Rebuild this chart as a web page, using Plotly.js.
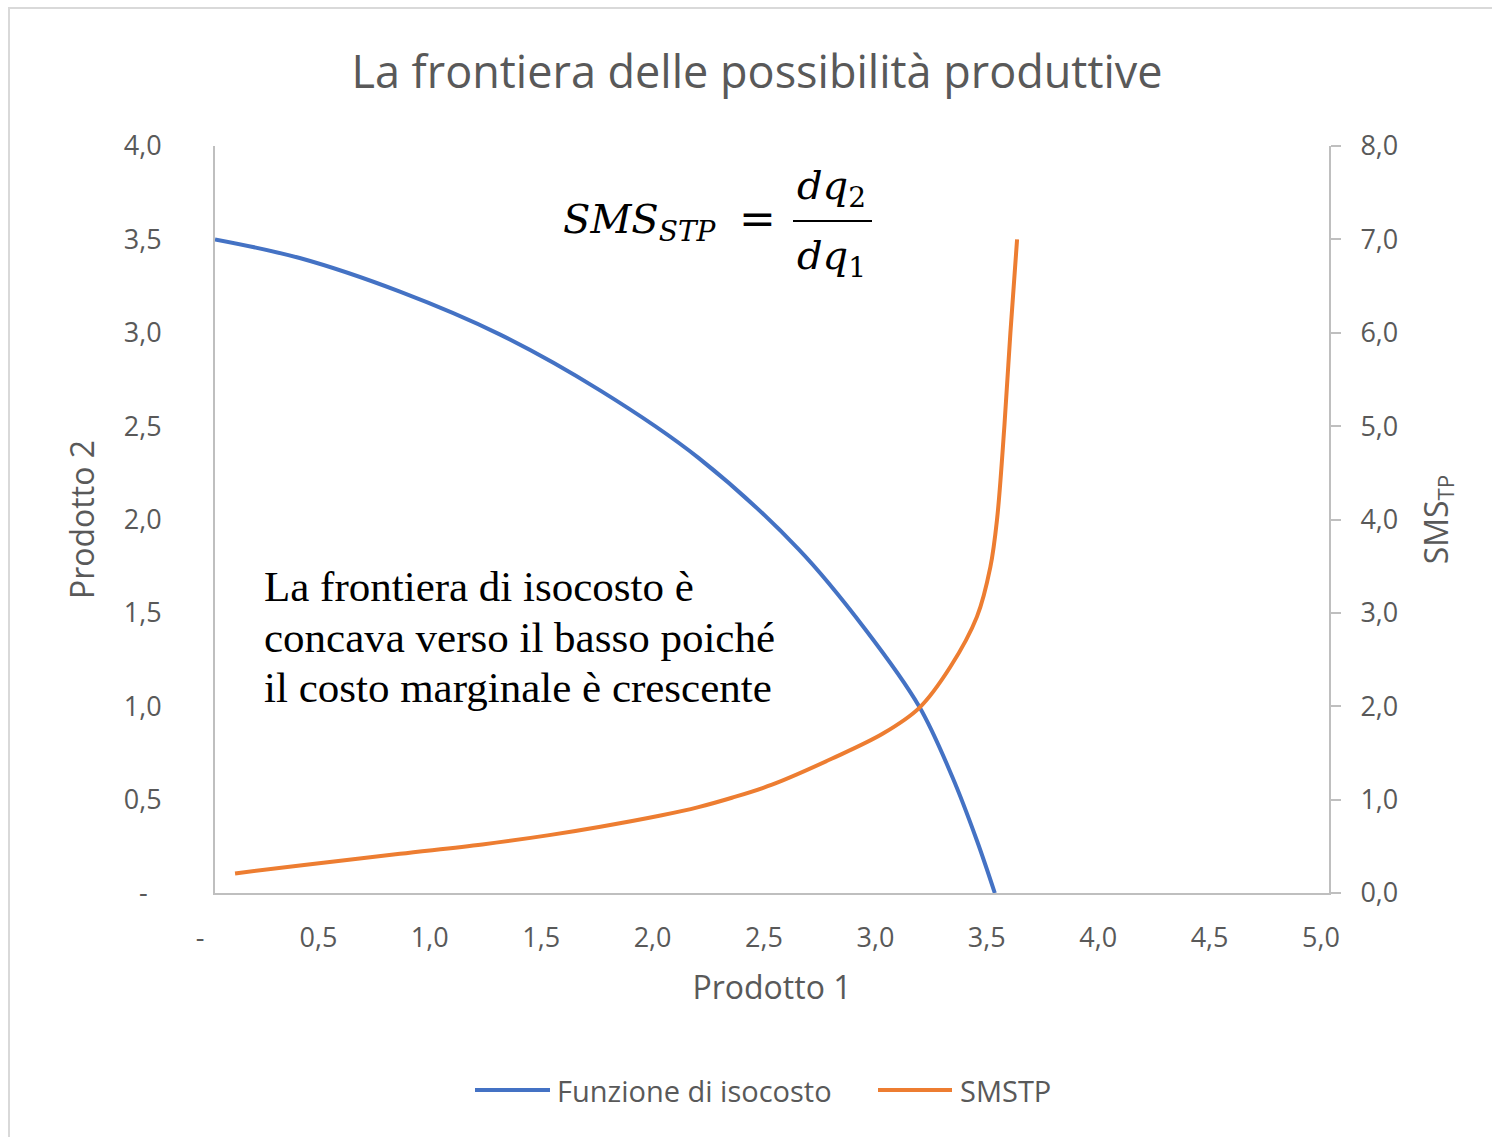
<!DOCTYPE html>
<html>
<head>
<meta charset="utf-8">
<script src="https://cdn.plot.ly/plotly-3.0.1.min.js"></script>
<style>
html,body{margin:0;padding:0;background:#fff;overflow:hidden;}
#frame{position:absolute;left:8px;top:7px;width:1600px;height:1300px;border:2px solid #d9d9d9;box-sizing:border-box;}
#chart{position:absolute;left:0;top:0;width:1492px;height:1137px;}
</style>
</head>
<body>
<div id="frame"></div>
<div id="chart"></div>
<script>
// Data
const isocostX = [0, 0.38, 0.83, 1.28, 1.73, 2.17, 2.62, 2.92, 3.16, 3.31, 3.42, 3.5];
const isocostY = [3.5, 3.40, 3.22, 2.99, 2.69, 2.33, 1.84, 1.41, 1.0, 0.62, 0.28, 0];
const smsX = [0.09, 0.4, 0.83, 1.2, 1.5, 1.73, 2.0, 2.17, 2.32, 2.5, 2.77, 3.0, 3.16, 3.3, 3.42, 3.48, 3.51, 3.543, 3.57, 3.60];
const smsY = [0.21, 0.30, 0.42, 0.52, 0.62, 0.71, 0.83, 0.92, 1.02, 1.16, 1.44, 1.71, 1.98, 2.42, 2.96, 3.49, 4.0, 5.0, 6.0, 7.0];
const xTickVals = [0, 0.5, 1, 1.5, 2, 2.5, 3, 3.5, 4, 4.5, 5];
const xTickText = ['-\u00a0\u00a0', '0,5', '1,0', '1,5', '2,0', '2,5', '3,0', '3,5', '4,0', '4,5', '5,0'];
const yTickVals = [0, 0.5, 1, 1.5, 2, 2.5, 3, 3.5, 4];
const yTickText = ['-\u00a0\u00a0', '0,5', '1,0', '1,5', '2,0', '2,5', '3,0', '3,5', '4,0'];
const y2TickVals = [0, 1, 2, 3, 4, 5, 6, 7, 8];
const y2TickText = ['0,0', '1,0', '2,0', '3,0', '4,0', '5,0', '6,0', '7,0', '8,0'];
const seriesNames = ['Funzione di isocosto', 'SMSTP'];
const seriesColors = ['#4472C4', '#ED7D31'];
const noteLines = ['La frontiera di isocosto è', 'concava verso il basso poiché', 'il costo marginale è crescente'];

const gray = '#595959';
const axisGray = '#bfbfbf';
const uiFont = 'Open Sans, Noto Sans, sans-serif';
const serif = 'Liberation Serif, Times New Roman, serif';
const mathFont = 'DejaVu Serif, Liberation Serif, serif';

const traces = [
  {x: isocostX, y: isocostY, type: 'scatter', mode: 'lines', name: seriesNames[0],
   line: {color: seriesColors[0], width: 4, shape: 'spline'}, xaxis: 'x', yaxis: 'y'},
  {x: smsX, y: smsY, type: 'scatter', mode: 'lines', name: seriesNames[1],
   line: {color: seriesColors[1], width: 4, shape: 'spline'}, xaxis: 'x', yaxis: 'y2'}
];

const L = 215, R = 1329, T = 146, B = 893, W = 1492, H = 1137;
const pw = R - L, ph = B - T;
function px(x){ return (x - L) / pw; }
function py(y){ return (B - y) / ph; }

const annotations = [];
const shapes = [];
const noteY = [586, 637, 688];
noteLines.forEach((t, i) => annotations.push({
  text: t, xref: 'paper', yref: 'paper', x: px(262), y: py(noteY[i]),
  xanchor: 'left', yanchor: 'middle', showarrow: false,
  font: {family: serif, size: 43, color: '#000'}
}));
annotations.push({
  text: '<i>SMS</i><sub><i>STP</i></sub>', xref: 'paper', yref: 'paper',
  x: px(561), y: py(222), xanchor: 'left', yanchor: 'middle', showarrow: false,
  font: {family: mathFont, size: 40, color: '#000'}
});
annotations.push({
  text: '=', xref: 'paper', yref: 'paper',
  x: px(757), y: py(218), xanchor: 'center', yanchor: 'middle', showarrow: false,
  font: {family: mathFont, size: 44, color: '#000'}
});
annotations.push({
  text: '<i>dq</i><sub>2</sub>', xref: 'paper', yref: 'paper',
  x: px(831), y: py(188), xanchor: 'center', yanchor: 'middle', showarrow: false,
  font: {family: mathFont, size: 40, color: '#000'}
});
annotations.push({
  text: '<i>dq</i><sub>1</sub>', xref: 'paper', yref: 'paper',
  x: px(831), y: py(258), xanchor: 'center', yanchor: 'middle', showarrow: false,
  font: {family: mathFont, size: 40, color: '#000'}
});
shapes.push({type: 'line', xref: 'paper', yref: 'paper', x0: px(793), x1: px(872), y0: py(221), y1: py(221),
  line: {color: '#000', width: 2}});

// custom legend (long line samples as in the reference)
const legLineX = [[475, 550], [878, 952]];
const legTextX = [555, 958];
seriesNames.forEach((n, i) => {
  shapes.push({type: 'line', xref: 'paper', yref: 'paper', x0: px(legLineX[i][0]), x1: px(legLineX[i][1]),
    y0: py(1090), y1: py(1090), line: {color: seriesColors[i], width: 4}});
  annotations.push({text: n, xref: 'paper', yref: 'paper', x: px(legTextX[i]), y: py(1090),
    xanchor: 'left', yanchor: 'middle', showarrow: false,
    font: {family: uiFont, size: 29, color: gray}});
});

const layout = {
  width: W, height: H,
  paper_bgcolor: 'rgba(0,0,0,0)', plot_bgcolor: 'rgba(0,0,0,0)',
  margin: {l: L, r: W - R, t: T, b: H - B, pad: 0},
  title: {text: 'La frontiera delle possibilità produttive', x: px(757), xref: 'paper', xanchor: 'center',
    y: 1 - 72 / H, yanchor: 'middle',
    font: {family: uiFont, size: 45, color: gray}},
  showlegend: false,
  xaxis: {range: [0, 5], tickvals: xTickVals, ticktext: xTickText,
    showline: true, linecolor: axisGray, linewidth: 2, showgrid: false, zeroline: false,
    ticks: '', ticklabelstandoff: 20, ticklabelshift: -8,
    tickfont: {family: uiFont, size: 27, color: gray},
    title: {text: 'Prodotto 1', standoff: 22, font: {family: uiFont, size: 32, color: gray}}},
  yaxis: {range: [0, 4], tickvals: yTickVals, ticktext: yTickText,
    showline: true, linecolor: axisGray, linewidth: 2, showgrid: false, zeroline: false,
    ticks: '', ticklabelstandoff: 46,
    tickfont: {family: uiFont, size: 27, color: gray},
    title: {text: 'Prodotto 2', standoff: 20, font: {family: uiFont, size: 32, color: gray}}},
  yaxis2: {range: [0, 8], overlaying: 'y', side: 'right', tickvals: y2TickVals, ticktext: y2TickText,
    showline: true, linecolor: axisGray, linewidth: 2, showgrid: false, zeroline: false,
    ticks: 'outside', ticklen: 10, tickcolor: axisGray, tickwidth: 2, ticklabelstandoff: 14,
    tickfont: {family: uiFont, size: 27, color: gray},
    title: {text: 'SMS<sub>TP</sub>', standoff: 28, font: {family: uiFont, size: 32, color: gray}}},
  shapes: shapes,
  annotations: annotations
};

Plotly.newPlot('chart', traces, layout, {displayModeBar: false, staticPlot: true});
</script>
</body>
</html>
